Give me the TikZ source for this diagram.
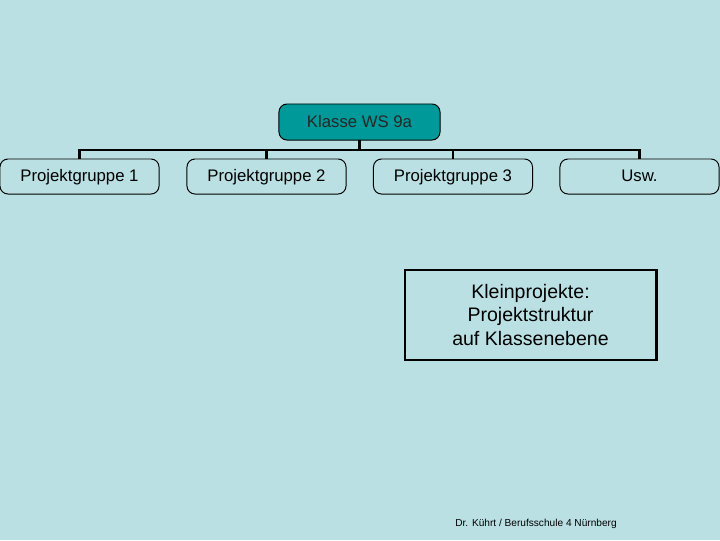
\documentclass[tikz,border=0pt]{standalone}
\usepackage{fontspec}
\setmainfont{Liberation Sans}
\definecolor{bgblue}{RGB}{186,224,227}
\definecolor{teal}{RGB}{0,153,153}

\begin{document}
\begin{tikzpicture}[x=0.025cm, y=-0.025cm,
  every node/.style={inner sep=0pt, outer sep=0pt, font=\fontsize{11.9}{14}\selectfont},
  gruppe/.style={draw=black, line width=0.7pt, rounded corners=0.2cm, minimum width=3.975cm, minimum height=0.875cm,
    text height=0.72em, text depth=0pt},
  stamm/.style={line width=2.1pt}]
\fill[bgblue] (0,0) rectangle (720,540);
\useasboundingbox (0,0) rectangle (720,540);

\node[gruppe, fill=teal, text=black!85, minimum width=4.025cm, minimum height=0.9cm] (klasse) at (359.5,122) {Klasse WS 9a};

\node[gruppe] (g1) at (79.5,176.5) {Projektgruppe 1};
\node[gruppe] (g2) at (266.5,176.5) {Projektgruppe 2};
\node[gruppe] (g3) at (453,176.5) {Projektgruppe 3};
\node[gruppe] (g4) at (639.5,176.5) {Usw.};

\draw[stamm] (klasse.south) -- ++(0,10) -| (g1.north);
\draw[stamm] (klasse.south) -- ++(0,10) -| (g2.north);
\draw[stamm] (klasse.south) -- ++(0,10) -| (g3.north);
\draw[stamm] (klasse.south) -- ++(0,10) -| (g4.north);

\node[draw=black, line width=2.1pt, minimum width=6.275cm, minimum height=2.25cm, align=center,
  font=\fontsize{13.9}{16.4}\selectfont] (info) at (530.5,315)
  {Kleinprojekte:\\Projektstruktur\\auf Klassenebene};

\node[font=\fontsize{7.2}{8}\selectfont] (fuss) at (536,524) {Dr. Kührt / Berufsschule 4 Nürnberg};
\end{tikzpicture}
\end{document}
